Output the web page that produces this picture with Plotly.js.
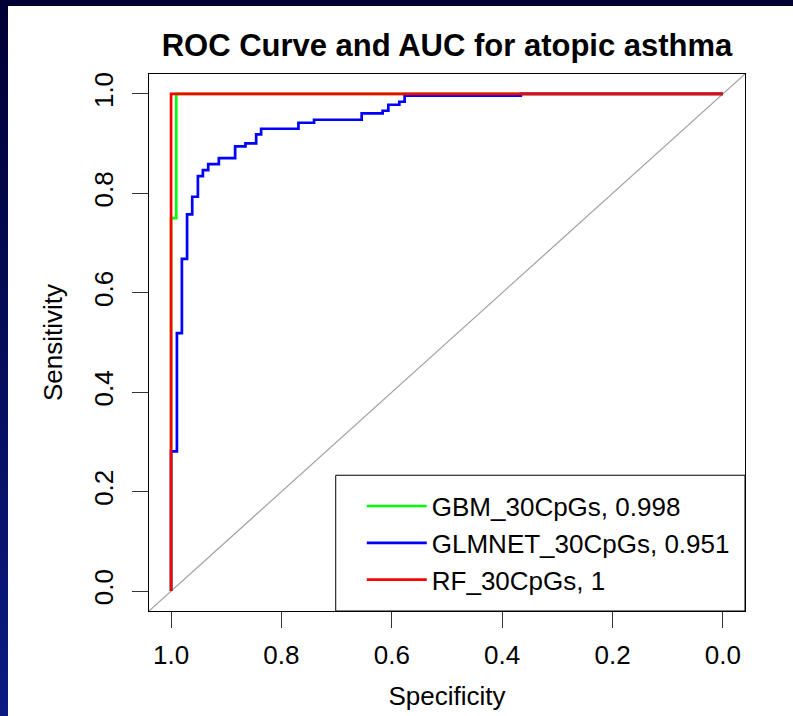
<!DOCTYPE html>
<html>
<head>
<meta charset="utf-8">
<script src="https://cdn.plot.ly/plotly-3.0.1.min.js"></script>
<style>
  html, body { margin: 0; padding: 0; width: 793px; height: 716px; overflow: hidden;
    background: linear-gradient(to bottom, #000034 0%, #0b1b82 100%); }
  #chart { position: absolute; left: 8px; top: 6px; width: 785px; height: 710px; background: #ffffff; }
</style>
</head>
<body>
<div id="chart"></div>
<script>
// ---- data ----
const chartTitle = "ROC Curve and AUC for atopic asthma";
const xTitle = "Specificity";
const yTitle = "Sensitivity";

const gbmName = "GBM_30CpGs, 0.998";
const gbmSpec = [1, 1, 0.9906, 0];
const gbmSens = [0, 0.75, 1, 1];

const glmName = "GLMNET_30CpGs, 0.951";
const glmSpec = [1, 1, 0.9894, 0.9804, 0.971, 0.9617, 0.9514, 0.9424, 0.9327, 0.9134, 0.8839,
                 0.8652, 0.8458, 0.8368, 0.7692, 0.7409, 0.6546, 0.6166, 0.6063, 0.5864, 0.5768, 0.3662, 0];
const glmSens = [0, 0.281, 0.519, 0.668, 0.7575, 0.7931, 0.8347, 0.8467, 0.8588, 0.8709, 0.8944,
                 0.9004, 0.9185, 0.9299, 0.942, 0.948, 0.9608, 0.9661, 0.9782, 0.9842, 0.9963, 1, 1];

const rfName = "RF_30CpGs, 1";
const rfSpec = [1, 1, 0];
const rfSens = [0, 1, 1];

const diagSpec = [1.04, -0.04];
const diagSens = [-0.04, 1.04];

const tickVals = [0, 0.2, 0.4, 0.6, 0.8, 1.0];
const tickText = ["0.0", "0.2", "0.4", "0.6", "0.8", "1.0"];

// ---- chart ----
const FONT = "Liberation Sans, Arial, Helvetica, sans-serif";

const traces = [
  { x: diagSpec, y: diagSens, type: "scatter", mode: "lines", showlegend: false, hoverinfo: "skip",
    line: { color: "#a0a0a0", width: 1.2 } },
  { x: gbmSpec, y: gbmSens, name: gbmName, type: "scatter", mode: "lines",
    line: { color: "#00ff00", width: 2.7, shape: "hv" } },
  { x: glmSpec, y: glmSens, name: glmName, type: "scatter", mode: "lines",
    line: { color: "#0000ff", width: 2.7, shape: "hv" } },
  { x: rfSpec, y: rfSens, name: rfName, type: "scatter", mode: "lines",
    line: { color: "#ff0000", width: 2.7, shape: "hv" } }
];

const axisCommon = {
  showgrid: false, zeroline: false,
  showline: true, linecolor: "#000000", linewidth: 1, mirror: true,
  ticks: "outside", ticklen: 16, tickwidth: 1, tickcolor: "#333333",
  tickmode: "array", tickvals: tickVals, ticktext: tickText,
  tickfont: { family: FONT, size: 26, color: "#000000" },
  fixedrange: true
};

const layout = {
  width: 785, height: 710,
  margin: { l: 141, r: 48, t: 68, b: 105, pad: 0 },
  paper_bgcolor: "#ffffff", plot_bgcolor: "#ffffff",
  font: { family: FONT, color: "#000000" },
  title: { text: "<b>" + chartTitle + "</b>", font: { family: FONT, size: 31, color: "#000000" },
           x: 0.5, xref: "paper", xanchor: "center", y: 0.945, yref: "container", yanchor: "middle" },
  xaxis: Object.assign({}, axisCommon, {
    range: [1.04, -0.04],
    ticklabelstandoff: 5,
    title: { text: xTitle, font: { family: FONT, size: 26, color: "#000000" }, standoff: 17 }
  }),
  yaxis: Object.assign({}, axisCommon, {
    range: [-0.04, 1.04],
    tickangle: -90,
    ticklabelstandoff: 9,
    title: { text: yTitle, font: { family: FONT, size: 26, color: "#000000" }, standoff: 18 }
  }),
  shapes: [
    { type: "rect", xref: "paper", yref: "paper", x0: 0.3133, x1: 1, y0: 0, y1: 0.2528,
      line: { color: "#000000", width: 1 }, fillcolor: "#ffffff", layer: "above" }
  ],
  legend: {
    x: 0.357, xanchor: "left", y: 0.1264, yanchor: "middle", xref: "paper", yref: "paper",
    bgcolor: "rgba(0,0,0,0)", bordercolor: "rgba(0,0,0,0)", borderwidth: 0,
    font: { family: FONT, size: 26, color: "#000000" },
    itemwidth: 60, tracegroupgap: 0
  },
  showlegend: true
};

Plotly.newPlot("chart", traces, layout, { displayModeBar: false, staticPlot: true });
</script>
</body>
</html>
